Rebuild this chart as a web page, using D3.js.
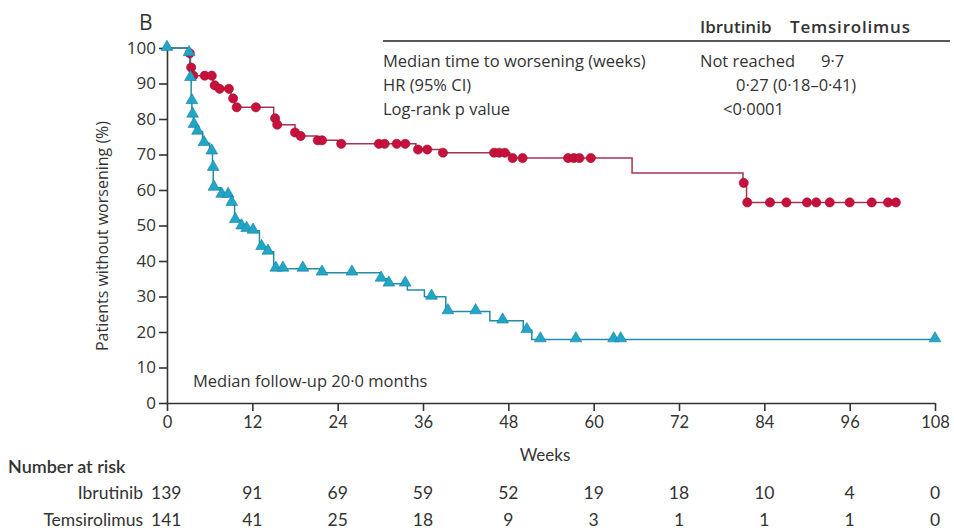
<!DOCTYPE html>
<html>
<head>
<meta charset="utf-8">
<script src="https://cdn.jsdelivr.net/npm/d3@7"></script>
<style>
  html, body { margin: 0; padding: 0; background: #fff; }
  svg text { font-family: "Open Sans", Lato, sans-serif; fill: #333; }
  svg text.cond { font-family: Lato, "Open Sans", sans-serif; }
</style>
</head>
<body>
<svg id="chart" width="954" height="532"></svg>
<script>
// Kaplan–Meier estimates: step times (weeks) and survival (%) after each step
const ibrutinibStepTimes = [0, 3.0, 3.3, 3.6, 6.5, 7.5, 9.0, 9.5, 15.0, 15.4, 18.0, 19.0, 21.0, 24.0, 35.0, 38.5, 48.2, 65.4, 81.0, 81.5];
const ibrutinibStepSurv  = [100, 98.5, 94.5, 92.2, 89.5, 88.5, 85.8, 83.3, 80.2, 78.4, 76.2, 75.2, 74.0, 73.0, 71.4, 70.5, 69.0, 64.8, 62.0, 56.5];
const ibrutinibEnd = 102.5;
// censored observations (Ibrutinib)
const ibrutinibCensorTimes = [3.2, 3.4, 3.7, 5.3, 6.3, 6.7, 7.4, 8.7, 9.3, 9.8, 12.5, 15.2, 15.5, 18.0, 18.8, 21.2, 21.8, 24.5, 29.8, 30.6, 32.3, 33.5, 35.3, 36.6, 38.8, 46.0, 46.7, 47.5, 48.6, 50.0, 56.4, 57.2, 58.0, 59.6, 81.1, 81.6, 84.8, 87.1, 90.0, 91.3, 93.2, 96.0, 99.1, 101.4, 102.5];
const ibrutinibCensorSurv  = [98.5, 94.5, 92.2, 92.2, 92.2, 89.5, 88.5, 88.5, 85.8, 83.3, 83.3, 80.2, 78.4, 76.2, 75.2, 74.0, 74.0, 73.0, 73.0, 73.0, 73.0, 73.0, 71.4, 71.4, 70.5, 70.5, 70.5, 70.5, 69.0, 69.0, 69.0, 69.0, 69.0, 69.0, 62.0, 56.5, 56.5, 56.5, 56.5, 56.5, 56.5, 56.5, 56.5, 56.5, 56.5];

const temsiStepTimes = [0, 3.0, 3.2, 3.4, 3.5, 3.7, 4.0, 5.0, 6.0, 6.4, 6.5, 7.5, 9.0, 9.5, 10.3, 11.0, 12.0, 13.0, 14.0, 15.0, 21.5, 30.0, 31.0, 33.8, 36.2, 39.2, 45.4, 50.1, 51.3];
const temsiStepSurv  = [100, 98.5, 91.5, 85.0, 81.2, 78.3, 76.4, 73.2, 70.8, 66.2, 60.6, 58.6, 56.3, 51.5, 49.7, 49.0, 48.5, 43.9, 42.6, 37.8, 36.7, 35.0, 33.6, 31.8, 29.9, 25.8, 23.2, 20.5, 17.9];
const temsiEnd = 108;
// censored observations (Temsirolimus)
const temsiCensorTimes = [0, 3.1, 3.3, 3.5, 3.6, 3.8, 4.3, 5.2, 6.3, 6.5, 6.6, 7.7, 8.6, 9.1, 9.6, 10.5, 11.2, 12.1, 13.3, 14.2, 15.3, 16.3, 19.1, 21.8, 26.0, 30.1, 31.2, 33.5, 37.2, 39.5, 43.4, 47.2, 50.6, 52.5, 57.5, 62.8, 63.8, 108];
const temsiCensorSurv  = [100, 98.5, 91.5, 85.0, 81.2, 78.3, 76.4, 73.2, 70.8, 66.2, 60.6, 58.6, 58.6, 56.3, 51.5, 49.7, 49.0, 48.5, 43.9, 42.6, 37.8, 37.8, 37.8, 36.7, 36.7, 35.0, 33.6, 33.6, 29.9, 25.8, 25.8, 23.2, 20.5, 17.9, 17.9, 17.9, 17.9, 17.9];

// axis ticks
const xTicks = [0, 12, 24, 36, 48, 60, 72, 84, 96, 108];
const yTicks = [0, 10, 20, 30, 40, 50, 60, 70, 80, 90, 100];

// number at risk
const riskGroups = ["Ibrutinib", "Temsirolimus"];
const riskIbrutinib = [139, 91, 69, 59, 52, 19, 18, 10, 4, 0];
const riskTemsi = [141, 41, 25, 18, 9, 3, 1, 1, 1, 0];

// summary table
const tableHeaders = ["Ibrutinib", "Temsirolimus"];
const tableRows = ["Median time to worsening (weeks)", "HR (95% CI)", "Log-rank p value"];
const tableMedians = ["Not reached", "9·7"];
const tableHR = "0·27 (0·18–0·41)";
const tableP = "<0·0001";

const svg = d3.select("#chart");
const x = d3.scaleLinear().domain([0, 108]).range([167, 935]);
const y = d3.scaleLinear().domain([0, 100]).range([403, 48]);

const RED = "#c8103c", RED_LINE = "#a8334f";
const TEAL = "#1fa6c8", TEAL_LINE = "#1f8ea6";
const AXIS = "#333";

// panel letter
svg.append("text").attr("x", 139).attr("y", 30).attr("font-size", 21).text("B");

// y axis
const yAxis = svg.append("g").attr("transform", `translate(${x(0)},0)`)
  .call(d3.axisLeft(y).tickValues(yTicks).tickSize(8).tickPadding(3).tickSizeOuter(0));
yAxis.select(".domain").attr("stroke", AXIS).attr("stroke-width", 1.6);
yAxis.selectAll(".tick line").attr("stroke", AXIS).attr("stroke-width", 1.6);
yAxis.selectAll(".tick text").attr("font-size", 17).attr("fill", "#333")
  .style("font-family", "'Open Sans', sans-serif");

// x axis
const xAxis = svg.append("g").attr("transform", `translate(0,${y(0)})`)
  .call(d3.axisBottom(x).tickValues(xTicks).tickSize(8).tickPadding(5).tickSizeOuter(0));
xAxis.select(".domain").attr("stroke", AXIS).attr("stroke-width", 1.6);
xAxis.selectAll(".tick line").attr("stroke", AXIS).attr("stroke-width", 1.6);
xAxis.selectAll(".tick text").attr("font-size", 16.5).attr("fill", "#333")
  .style("font-family", "Lato, sans-serif");

// axis titles
svg.append("text").attr("transform", `translate(108,236) rotate(-90)`)
  .attr("text-anchor", "middle").attr("font-size", 16).text("Patients without worsening (%)");
svg.append("text").attr("class", "cond").attr("x", 545).attr("y", 461).attr("text-anchor", "middle")
  .attr("font-size", 17).text("Weeks");

// step curves
function stepData(times, surv, end) {
  const pts = times.map((t, i) => [t, surv[i]]);
  pts.push([end, surv[surv.length - 1]]);
  return pts;
}
const line = d3.line().x(d => x(d[0])).y(d => y(d[1])).curve(d3.curveStepAfter);

svg.append("path").datum(stepData(ibrutinibStepTimes, ibrutinibStepSurv, ibrutinibEnd))
  .attr("d", line).attr("fill", "none").attr("stroke", RED_LINE).attr("stroke-width", 1.5);
svg.append("path").datum(stepData(temsiStepTimes, temsiStepSurv, temsiEnd))
  .attr("d", line).attr("fill", "none").attr("stroke", TEAL_LINE).attr("stroke-width", 1.5);

// censor marks
svg.append("g").selectAll("circle")
  .data(ibrutinibCensorTimes.map((t, i) => [t, ibrutinibCensorSurv[i]]))
  .join("circle").attr("cx", d => x(d[0])).attr("cy", d => y(d[1])).attr("r", 4.6)
  .attr("fill", RED).attr("stroke", "#9a0f33").attr("stroke-width", 0.6);

const tri = d3.symbol().type(d3.symbolTriangle).size(60);
svg.append("g").selectAll("path")
  .data(temsiCensorTimes.map((t, i) => [t, temsiCensorSurv[i]]))
  .join("path").attr("d", tri)
  .attr("transform", d => `translate(${x(d[0])},${y(d[1]) - 1})`)
  .attr("fill", TEAL).attr("stroke", "#1a7f98").attr("stroke-width", 0.6);

// follow-up note
svg.append("text").attr("x", 193).attr("y", 387).attr("font-size", 16.5).text("Median follow-up 20·0 months");

// summary table
svg.append("text").attr("x", 700).attr("y", 33).attr("font-size", 17).attr("font-weight", 600).text(tableHeaders[0]);
svg.append("text").attr("x", 790).attr("y", 33).attr("font-size", 17).attr("font-weight", 600)
  .attr("letter-spacing", 0.8).text(tableHeaders[1]);
svg.append("line").attr("x1", 383).attr("x2", 950).attr("y1", 41).attr("y2", 41)
  .attr("stroke", "#222").attr("stroke-width", 1.6);
tableRows.forEach((r, i) => {
  svg.append("text").attr("x", 383).attr("y", 67 + i * 24).attr("font-size", 16.5).text(r);
});
svg.append("text").attr("x", 700).attr("y", 67).attr("font-size", 16.5).text(tableMedians[0]);
svg.append("text").attr("x", 821).attr("y", 67).attr("font-size", 16.5).text(tableMedians[1]);
svg.append("text").attr("x", 736).attr("y", 91).attr("font-size", 16.5).text(tableHR);
svg.append("text").attr("x", 723).attr("y", 115).attr("font-size", 16.5).text(tableP);

// number at risk
svg.append("text").attr("class", "cond").attr("x", 8).attr("y", 473).attr("font-size", 18)
  .attr("font-weight", 600).text("Number at risk");
[riskIbrutinib, riskTemsi].forEach((row, r) => {
  const yy = 499 + r * 27;
  svg.append("text").attr("class", "cond").attr("x", 143).attr("y", yy).attr("text-anchor", "end")
    .attr("font-size", 17.5).text(riskGroups[r]);
  row.forEach((v, i) => {
    svg.append("text").attr("class", "cond")
      .attr("x", i === 0 ? 151 : x(xTicks[i])).attr("y", yy)
      .attr("text-anchor", i === 0 ? "start" : "middle").attr("font-size", 17.5).text(v);
  });
});
</script>
</body>
</html>
